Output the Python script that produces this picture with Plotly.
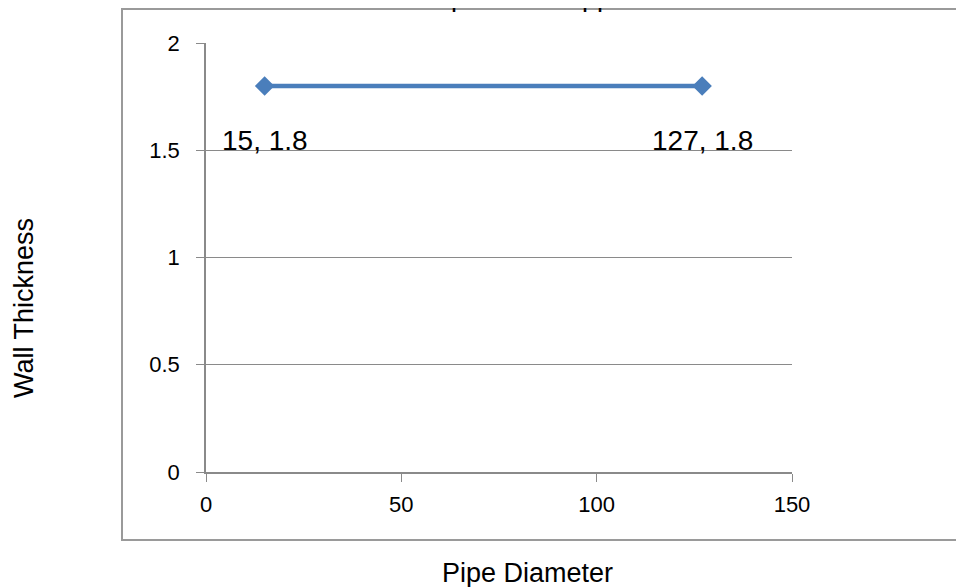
import plotly.graph_objects as go

# Data
pipe_diameter = [15, 127]
wall_thickness = [1.8, 1.8]

x_ticks = [0, 50, 100, 150]
y_ticks = [0, 0.5, 1, 1.5, 2]

title_text = "Pipe Wall Copper"
x_title = "Pipe Diameter"
y_title = "Wall Thickness"

OFF = 8  # page body margin
W, H = 964, 587
L, T = 206 - OFF, 43 - OFF
R = W - (792 - OFF)
B = H - (472 - OFF)
pw = W - L - R
ph = H - T - B

def px_x(p):
    return (p - OFF - L) / pw

def px_y(p):
    return (H - B - (p - OFF)) / ph

grey = "#8a8a8a"
blue = "#4a7ebb"

fig = go.Figure()
fig.add_trace(go.Scatter(
    x=pipe_diameter, y=wall_thickness, mode="lines+markers",
    line=dict(color=blue, width=4.5),
    marker=dict(symbol="diamond", size=15, color=blue),
    showlegend=False, hoverinfo="skip",
))

annotations = []
for xv, yv in zip(pipe_diameter, wall_thickness):
    annotations.append(dict(
        x=xv, y=yv, xref="x", yref="y", text=f"{xv}, {yv}", showarrow=False,
        yshift=-55, font=dict(family="Liberation Sans, Arial", size=28, color="black"),
    ))

annotations.append(dict(
    x=px_x(531), y=px_y(14), xref="paper", yref="paper", xanchor="center", yanchor="bottom",
    text=title_text, showarrow=False,
    font=dict(family="Liberation Sans, Arial", size=27, color="black"),
))
annotations.append(dict(
    x=px_x(527), y=px_y(573), xref="paper", yref="paper", xanchor="center", yanchor="middle",
    text=x_title, showarrow=False,
    font=dict(family="Liberation Sans, Arial", size=27, color="black"),
))
annotations.append(dict(
    x=px_x(24), y=px_y(308), xref="paper", yref="paper", xanchor="center", yanchor="middle",
    text=y_title, showarrow=False, textangle=-90,
    font=dict(family="Liberation Sans, Arial", size=27, color="black"),
))

fig.add_shape(type="rect", xref="paper", yref="paper",
              x0=px_x(122), x1=px_x(1100), y0=px_y(540), y1=px_y(9),
              line=dict(color="#9a9a9a", width=2), layer="below")

fig.update_layout(
    width=W, height=H,
    margin=dict(l=L, r=R, t=T, b=B),
    paper_bgcolor="white", plot_bgcolor="white",
    annotations=annotations,
    font=dict(family="Liberation Sans, Arial", size=22, color="black"),
)
fig.update_xaxes(
    range=[0, 150], tickvals=x_ticks, ticks="outside", ticklen=8, tickcolor=grey,
    showline=True, linecolor=grey, linewidth=1.5, showgrid=False, zeroline=False,
    tickfont=dict(size=22), ticklabelstandoff=4,
)
fig.update_yaxes(
    range=[0, 2], tickvals=y_ticks, ticktext=[str(v) for v in y_ticks], ticks="outside", ticklen=8, tickcolor=grey,
    showline=True, linecolor=grey, linewidth=1.5, showgrid=True, gridcolor=grey, gridwidth=1,
    zeroline=False, tickfont=dict(size=22), ticklabelstandoff=12,
)

fig.write_html("out.html")
